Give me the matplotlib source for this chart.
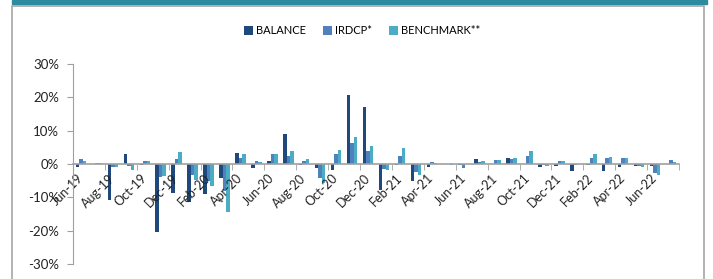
import numpy as np
import matplotlib
matplotlib.use("Agg")
import matplotlib.pyplot as plt
from matplotlib.patches import Rectangle
from matplotlib.ticker import FuncFormatter

plt.rcParams['font.family'] = ['Lato', 'DejaVu Sans']

months = ["Jun-19", "Jul-19", "Aug-19", "Sep-19", "Oct-19", "Nov-19", "Dec-19",
          "Jan-20", "Feb-20", "Mar-20", "Apr-20", "May-20", "Jun-20", "Jul-20",
          "Aug-20", "Sep-20", "Oct-20", "Nov-20", "Dec-20", "Jan-21", "Feb-21",
          "Mar-21", "Apr-21", "May-21", "Jun-21", "Jul-21", "Aug-21", "Sep-21",
          "Oct-21", "Nov-21", "Dec-21", "Jan-22", "Feb-22", "Mar-22", "Apr-22",
          "May-22", "Jun-22", "Jul-22"]

balance = [-1.0, 0.1, -10.8, 2.9, -0.3, -20.3, -8.8, -11.3, -9.0, -4.2, 3.2, -1.3,
           1.0, 8.9, -0.2, -1.2, -1.9, 20.7, 17.0, -7.8, -0.2, -5.0, -0.9, 0.1,
           -0.3, 1.6, 0.0, 1.7, 0.0, -1.0, -0.5, -2.1, -0.3, -2.2, -1.0, -0.5,
           -0.5, -0.1]
irdcp = [1.4, 0.2, -0.8, -0.5, 0.8, -4.0, 1.6, -3.3, -5.0, -8.0, 1.8, 0.8,
         3.0, 2.4, 1.0, -4.2, 3.0, 6.4, 3.9, -1.5, 2.3, -2.3, 0.7, 0.1,
         -1.1, 0.5, 1.2, 1.5, 2.3, -0.2, 0.8, -0.4, 1.8, 1.7, 1.7, -0.5,
         -2.7, 1.3]
benchmark = [0.9, 0.4, -0.8, -1.7, 0.9, -3.6, 3.5, -4.8, -6.5, -14.3, 3.0, 0.7,
             3.1, 4.0, 1.4, -5.8, 4.3, 8.2, 5.3, -1.8, 4.7, -3.4, 0.3, -0.3,
             0.0, 1.0, 1.2, 1.8, 3.8, -0.7, 0.8, -0.1, 3.0, 2.2, 1.9, -0.8,
             -3.2, 0.7]

fig = plt.figure(figsize=(7.13, 2.79), dpi=100)
W, H = 713, 279

# teal strip and grey frame
fig.patches.append(Rectangle((12 / W, 1 - 3.5 / H), 695 / W, 3.5 / H,
                             transform=fig.transFigure, color='#2E8A9E', zorder=0))
fig.patches.append(Rectangle((12 / W, -0.05), 692 / W, 1.05 - 6 / H,
                             transform=fig.transFigure, fill=False,
                             edgecolor='#A6A6A6', lw=1.2, zorder=0))

ax = fig.add_axes([73 / W, 15 / H, 606 / W, 200 / H])
x = np.arange(len(months))
w = 0.22
ax.bar(x - w, balance, w, color='#1F497D', label='BALANCE')
ax.bar(x, irdcp, w, color='#4F81BD', label='IRDCP*')
ax.bar(x + w, benchmark, w, color='#4BACC6', label='BENCHMARK**')

ax.set_xlim(-0.5, len(months) - 0.5)
ax.set_ylim(-30, 30)
ax.set_yticks(np.arange(-30, 31, 10))
ax.yaxis.set_major_formatter(FuncFormatter(lambda v, p: f"{v:.0f}%"))

for s in ['top', 'right']:
    ax.spines[s].set_visible(False)
ax.spines['bottom'].set_position(('data', 0))
ax.spines['bottom'].set_color('#A0A0A0')
ax.spines['left'].set_color('#A0A0A0')
ax.spines['bottom'].set_linewidth(1.2)

ax.set_xticks(x[::2])
ax.set_xticklabels(months[::2], rotation=45, ha='right', va='center',
                   rotation_mode='anchor', fontsize=9, color='#222222')
ax.set_xticks(np.arange(-0.5, len(months), 2), minor=True)
ax.tick_params(axis='x', which='major', length=0, pad=9)
ax.tick_params(axis='x', which='minor', length=4, color='#A0A0A0', direction='out')
ax.tick_params(axis='y', length=4, color='#A0A0A0', labelsize=9.5,
               labelcolor='#222222', pad=6)

fig.legend(loc='center', bbox_to_anchor=(362 / W, 1 - 31 / H), ncol=3,
           frameon=False, fontsize=8, handlelength=0.8, handleheight=0.8,
           handletextpad=0.3, columnspacing=1.5)

fig.savefig('out.png', dpi=100)
